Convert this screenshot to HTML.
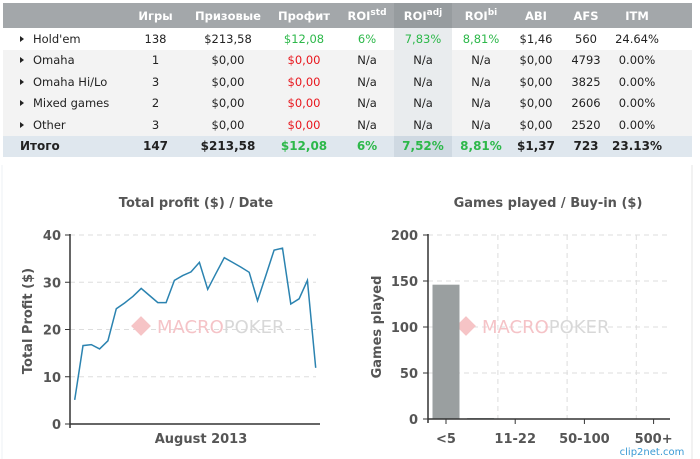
<!DOCTYPE html>
<html><head><meta charset="utf-8">
<style>
body{margin:0;width:700px;height:459px;background:#fff;font-family:"DejaVu Sans","Liberation Sans",sans-serif;overflow:hidden;position:relative}
#tbl{position:absolute;left:3px;top:3px;width:689px;border-collapse:collapse;font-size:11.5px;color:#222}
#tbl td,#tbl th{padding:0;text-align:center;height:21.5px;white-space:nowrap}
#tbl th{background:#a3a7aa;color:#fff;font-weight:bold;height:25px}
#tbl th.adj{background:#979c9f}
#tbl tr.r0 td{background:#fff}
#tbl tr.r1 td{background:#f3f3f3}
#tbl tr.tot td{background:#dfe7ee;font-weight:bold;font-size:12px}
#tbl td.adj{background:#e9ecee !important}
#tbl tr.tot td.adj{background:#cfd9e2 !important}
#tbl td.nm{text-align:left;padding-left:17px}
.g{color:#2db84a}.r{color:#e8161d}
.tri{display:inline-block;width:0;height:0;border-left:4px solid #222;border-top:3.5px solid transparent;border-bottom:3.5px solid transparent;margin-right:9px;vertical-align:1px}
sup{font-size:9px}
svg{position:absolute;left:0;top:0}
</style></head><body>
<table id="tbl">
<colgroup><col style="width:120px"><col style="width:65px"><col style="width:80px"><col style="width:72px"><col style="width:54px"><col style="width:58px"><col style="width:58px"><col style="width:52px"><col style="width:48px"><col style="width:54px"><col style="width:28px"></colgroup>
<tr><th></th><th>Игры</th><th>Призовые</th><th>Профит</th><th>ROI<sup>std</sup></th><th class="adj">ROI<sup>adj</sup></th><th>ROI<sup>bi</sup></th><th>ABI</th><th>AFS</th><th>ITM</th><th></th></tr>
<tr class="r0"><td class="nm"><span class="tri"></span>Hold'em</td><td>138</td><td>$213,58</td><td class="g">$12,08</td><td class="g">6%</td><td class="adj g">7,83%</td><td class="g">8,81%</td><td>$1,46</td><td>560</td><td>24.64%</td><td></td></tr>
<tr class="r1"><td class="nm"><span class="tri"></span>Omaha</td><td>1</td><td>$0,00</td><td class="r">$0,00</td><td>N/a</td><td class="adj">N/a</td><td>N/a</td><td>$0,00</td><td>4793</td><td>0.00%</td><td></td></tr>
<tr class="r1"><td class="nm"><span class="tri"></span>Omaha Hi/Lo</td><td>3</td><td>$0,00</td><td class="r">$0,00</td><td>N/a</td><td class="adj">N/a</td><td>N/a</td><td>$0,00</td><td>3825</td><td>0.00%</td><td></td></tr>
<tr class="r1"><td class="nm"><span class="tri"></span>Mixed games</td><td>2</td><td>$0,00</td><td class="r">$0,00</td><td>N/a</td><td class="adj">N/a</td><td>N/a</td><td>$0,00</td><td>2606</td><td>0.00%</td><td></td></tr>
<tr class="r1"><td class="nm"><span class="tri"></span>Other</td><td>3</td><td>$0,00</td><td class="r">$0,00</td><td>N/a</td><td class="adj">N/a</td><td>N/a</td><td>$0,00</td><td>2520</td><td>0.00%</td><td></td></tr>
<tr class="tot"><td class="nm">Итого</td><td>147</td><td>$213,58</td><td class="g">$12,08</td><td class="g">6%</td><td class="adj g">7,52%</td><td class="g">8,81%</td><td>$1,37</td><td>723</td><td>23.13%</td><td></td></tr>
</table>
<svg id="ch" width="700" height="459" xmlns="http://www.w3.org/2000/svg" font-family="DejaVu Sans, Liberation Sans, sans-serif">
<line x1="692" y1="165" x2="692" y2="459" stroke="#e6e6e6"/>
<line x1="2" y1="165" x2="2" y2="459" stroke="#eef2f4"/>
</svg>
<script>
const profitValues=[5.1,16.6,16.8,15.9,17.6,24.4,25.6,27.0,28.7,27.2,25.7,25.7,30.4,31.4,32.2,34.2,28.5,31.9,35.2,34.2,33.2,32.1,26.1,31.4,36.8,37.2,25.4,26.5,30.4,11.9];
const profitTicks=[0,10,20,30,40];
const buyinCats=["<5","5-11","11-22","22-50","50-100","100-500","500+"];
const buyinLabels=["<5","","11-22","","50-100","","500+"];
const gamesValues=[146,1,0,0,0,0,0];
const gamesTicks=[0,50,100,150,200];
const NS="http://www.w3.org/2000/svg";
const svg=document.getElementById('ch');
function mk(t,a,txt){const e=document.createElementNS(NS,t);for(const k in a)e.setAttribute(k,a[k]);if(txt!==undefined)e.textContent=txt;svg.appendChild(e);return e;}
function watermark(cx){
 let d=mk('rect',{x:cx-91,y:319,width:14,height:14,fill:'#f6c4c6',transform:'rotate(45 '+(cx-84)+' 326)'});
 
 
 let w=mk('text',{x:cx-68,y:333,'font-size':18});
 
 
 const a=document.createElementNS(NS,'tspan');a.setAttribute('fill','#f5c3c7');a.textContent='MACRO';w.appendChild(a);
 const b=document.createElementNS(NS,'tspan');b.setAttribute('fill','#d8d8d8');b.textContent='POKER';w.appendChild(b);
}
// left chart
const ly=v=>424-v*(189/40);
const lx=i=>74.7+i*(241/(profitValues.length-1));
let t=mk('text',{x:196,y:207,'text-anchor':'middle','font-size':13,'font-weight':'bold',fill:'#555'},'Total profit ($) / Date');

profitTicks.forEach(v=>{
 if(v>0){let g=mk('line',{x1:70,x2:316,y1:ly(v),y2:ly(v),stroke:'#ddd','stroke-dasharray':'5,4'});}
 let tk=mk('line',{x1:65,x2:70,y1:ly(v),y2:ly(v),stroke:'#333'});
 let l=mk('text',{x:61,y:ly(v)+5,'text-anchor':'end','font-size':13,'font-weight':'bold',fill:'#555'},v);
 
});
watermark(225);
let ax=mk('path',{d:'M70,234 V428 M70,424 H320',stroke:'#333','stroke-width':1.5,fill:'none'});
let pts=profitValues.map((v,i)=>lx(i).toFixed(1)+','+ly(v).toFixed(1)).join(' ');
let pl=mk('polyline',{points:pts,fill:'none',stroke:'#2b83b0','stroke-width':1.5});
t=mk('text',{x:201,y:443,'text-anchor':'middle','font-size':13,'font-weight':'bold',fill:'#555'},'August 2013');
t=mk('text',{x:0,y:0,'text-anchor':'middle','font-size':13,'font-weight':'bold',fill:'#555',transform:'translate(32,321) rotate(-90)'},'Total Profit ($)');
// right chart
const ry=v=>419-v*(184/200);
const rx=i=>446+i*34.6;
t=mk('text',{x:548,y:207,'text-anchor':'middle','font-size':13,'font-weight':'bold',fill:'#555'},'Games played / Buy-in ($)');
gamesTicks.forEach(v=>{
 if(v>0){let g=mk('line',{x1:428,x2:670,y1:ry(v),y2:ry(v),stroke:'#ddd','stroke-dasharray':'5,4'});}
 let tk=mk('line',{x1:423,x2:428,y1:ry(v),y2:ry(v),stroke:'#333'});
 let l=mk('text',{x:418,y:ry(v)+5,'text-anchor':'end','font-size':13,'font-weight':'bold',fill:'#555'},v);
});
[1,3,5].forEach(i=>{let g=mk('line',{x1:rx(i)+17.3,x2:rx(i)+17.3,y1:ry(200),y2:ry(0),stroke:'#ddd','stroke-dasharray':'5,4'});});
watermark(550);
gamesValues.forEach((v,i)=>{
 let b=mk('rect',{x:rx(i)-13.5,y:ry(v),width:27,height:Math.max(ry(0)-ry(v),0),fill:'#9a9fa0'});
 
});
let ax2=mk('path',{d:'M428,234 V423 M428,419 H670',stroke:'#333','stroke-width':1.5,fill:'none'});
buyinLabels.forEach((s,i)=>{
 if(!s)return;
 let tk=mk('line',{x1:rx(i),x2:rx(i),y1:419,y2:424,stroke:'#333'});
 let l=mk('text',{x:rx(i),y:443,'text-anchor':'middle','font-size':13,'font-weight':'bold',fill:'#555'},s);
});
t=mk('text',{x:0,y:0,'text-anchor':'middle','font-size':13,'font-weight':'bold',fill:'#555',transform:'translate(381,327) rotate(-90)'},'Games played');
t=mk('text',{x:652,y:455,'text-anchor':'middle','font-size':10,fill:'#3a9bd5'},'clip2net.com');
</script>
</body></html>
